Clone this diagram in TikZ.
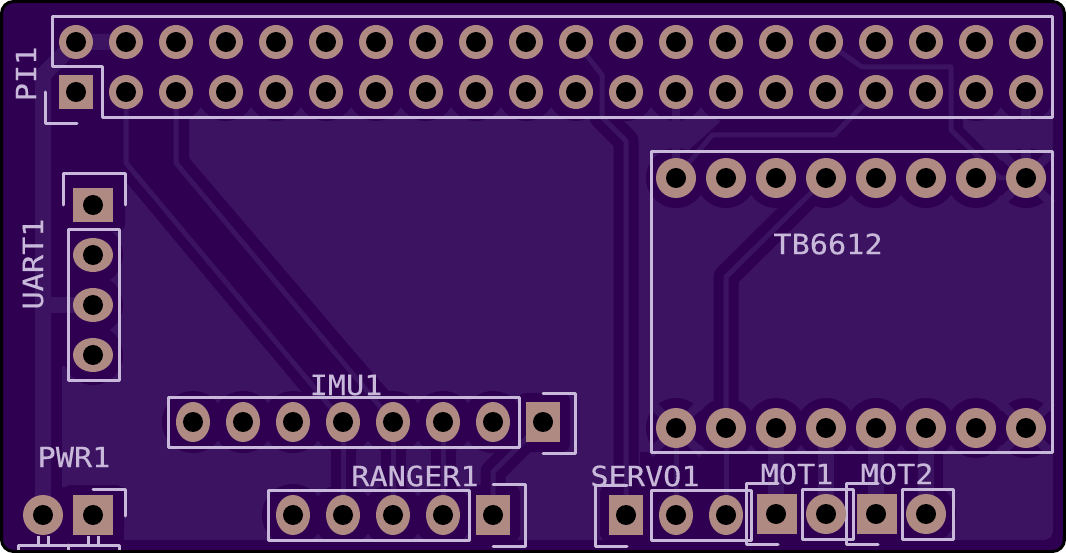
\documentclass[tikz,border=0pt]{standalone}
\usepackage{fontspec}
\newfontfamily\silkfont[FakeBold=0.25]{DejaVu Sans Mono}
\definecolor{bdark}{RGB}{47,0,82}
\definecolor{blight}{RGB}{60,19,97}
\definecolor{silk}{RGB}{200,185,218}
\definecolor{padc}{RGB}{174,138,130}
\tikzset{
  chan/.style={draw=bdark,line width=25pt,line join=round,line cap=round},
  thin trace/.style={draw=blight,line width=5pt,line join=round},
  wide trace/.style={draw=blight,line width=16pt,line join=round},
  spoke/.style={draw=blight,line width=9pt},
  silkline/.style={draw=silk,line width=3pt,line cap=round,line join=round},
  label/.style={text=silk,inner sep=0pt,font=\silkfont\fontsize{28}{28}\selectfont},
  darkfill/.style={fill=bdark},
  padfill/.style={fill=padc},
  hole/.style={fill=black}
}
\newcommand{\wtext}[1]{\scalebox{1.08}[1]{#1}}
\begin{document}
\begin{tikzpicture}[x=1pt,y=-1pt]
\useasboundingbox (0,0) rectangle (1066,553);
\fill[white] (0,0) rectangle (1066,553);
% board
\fill[bdark,rounded corners=12pt] (1.5,1.5) rectangle (1064.5,551.5);
% copper pour
\fill[blight]
  (100,100) -- (720,100) -- (720,122) -- (680,158) -- (680,178) -- (1000,178)
  -- (1000,165) -- (963,128) -- (963,100) -- (1053,100)
  -- (1053,532) -- (1051,537) -- (1045,540) -- (124,540) -- (124,487) -- (62,487) -- (62,366)
  -- (100,366) -- (100,100) -- cycle;
% dark areas of the pour
\fill[bdark] (95,95) -- (189,95) -- (189,158) -- (370,370) -- (425,432) -- (335,432)
  -- (300,390) -- (127,183) -- (95,183) -- cycle;
\fill[bdark] (640,452) rectangle (943,541);
% channels
\draw[chan,line cap=butt] (602,75) -- (602,117) -- (626,141) -- (626,490);
\draw[chan,line cap=butt] (726,428) -- (726,277) -- (826,178);
\draw[chan,line cap=butt] (543,422) -- (493,472) -- (493,515);
\foreach \x in {343,393,443}{\draw[chan,line cap=butt] (\x,422) -- (\x,515);}
\fill[bdark] (950,100) -- (963,100) -- (963,128) -- (1000,165) -- (1000,178) -- (960,178) -- cycle;
% clearances
\foreach \k in {1,...,19}{\fill[bdark] ({76+50*\k},92) circle (29pt);}
\foreach \k in {0,...,7}{
  \fill[bdark] ({676+50*\k},178) circle (30pt);
  \fill[bdark] ({676+50*\k},428) circle (30pt);
}
\foreach \y in {255,305,355}{\fill[bdark] (93,\y) circle (30pt);}
\fill[bdark] (43,515) circle (30pt);
\fill[bdark,rounded corners=8pt] (63,485) rectangle (124,541);
\fill[bdark,rounded corners=8pt] (68,180) rectangle (125,232);
\foreach \k in {0,...,6}{\fill[bdark] ({193+50*\k},422) circle (31pt);}
\fill[bdark,rounded corners=8pt] (518,393) rectangle (570,452);
\foreach \k in {0,...,3}{\fill[bdark] ({293+50*\k},515) circle (31pt);}
\fill[bdark,rounded corners=8pt] (468,485) rectangle (520,541);
\fill[bdark,rounded corners=8pt] (600,485) rectangle (652,541);
\foreach \x in {676,726,776,826,876,926}{\fill[bdark] (\x,514) circle (30pt);}
% traces
\draw[wide trace] (126,42) -- (76,42) -- (43,75) -- (43,515);
\draw[wide trace] (43,305) -- (93,305);
\draw[thin trace] (126,92) -- (126,163) -- (343,422);
\draw[thin trace] (176,92) -- (176,163) -- (393,422);
\draw[thin trace] (576,42) -- (602,75) -- (602,117) -- (626,141) -- (626,515);
\draw[thin trace] (826,42) -- (862,67) -- (951,67) -- (951,130) -- (1000,178) -- (1026,178);
\draw[thin trace] (876,92) -- (834,135) -- (712,135) -- (676,178);
\draw[thin trace] (726,428) -- (726,277) -- (826,178);
\draw[thin trace] (543,422) -- (493,472) -- (493,515);
\foreach \x in {343,393,443}{\draw[thin trace] (\x,422) -- (\x,515);}
\foreach \x in {676,726}{\draw[thin trace] (\x,428) -- (\x,514);}
\draw[blight,line width=8pt] (676,92) -- (676,178);
\draw[blight,line width=10pt] (1026,92) -- (1026,178);
\foreach \x in {776,826,876,926}{\draw[wide trace] (\x,428) -- (\x,514);}
% thermal spokes
\foreach \x/\y in {676/428,1026/428,1026/178}{
  \draw[spoke] (\x-26,\y-26) -- (\x+26,\y+26);
  \draw[spoke] (\x-26,\y+26) -- (\x+26,\y-26);
}
% silk
\draw[silkline] (52,17) -- (1052,17) -- (1052,118) -- (102,118) -- (102,67) -- (52,67) -- cycle;
\draw[silkline] (45,92) -- (45,124) -- (77,124);
\draw[silkline] (651,152) rectangle (1052,452);
\draw[silkline] (63,205) -- (63,174) -- (125,174) -- (125,205);
\draw[silkline] (68,230) rectangle (119,381);
\draw[silkline] (168,397) rectangle (519,447);
\draw[silkline] (543,393) -- (575,393) -- (575,453) -- (543,453);
\draw[silkline] (268,490) rectangle (469,540);
\draw[silkline] (493,484) -- (525,484) -- (525,546) -- (493,546);
\draw[silkline] (93,489) -- (125,489) -- (125,516);
\draw[silkline] (18,552) -- (18,545) -- (119,545) -- (119,552);
\draw[silkline] (68,545) -- (68,552);
\foreach \x in {38,48,88,98}{\draw[silkline,line cap=butt] (\x,536) -- (\x,545);}
\draw[silkline] (627,485) -- (595,485) -- (595,546) -- (627,546);
\draw[silkline] (651,490) rectangle (751,540);
\draw[silkline] (778,483) -- (746,483) -- (746,544) -- (778,544);
\draw[silkline] (802,489) rectangle (853,539);
\draw[silkline] (878,483) -- (846,483) -- (846,544) -- (878,544);
\draw[silkline] (902,489) rectangle (953,539);
% pads
\fill[padc] (59,75) rectangle (93,109);
\foreach \k in {0,...,19}{\fill[padc] ({76+50*\k},42) circle (17pt);}
\foreach \k in {1,...,19}{\fill[padc] ({76+50*\k},92) circle (17pt);}
\foreach \k in {0,...,7}{
  \fill[padc] ({676+50*\k},178) circle (20pt);
  \fill[padc] ({676+50*\k},428) circle (20pt);
}
\fill[padc] (73,188) rectangle (113,222);
\foreach \y in {255,305,355}{\fill[padc] (93,\y) ellipse [x radius=20pt,y radius=17pt];}
\foreach \k in {0,...,6}{\fill[padc] ({193+50*\k},422) ellipse [x radius=17pt,y radius=20pt];}
\fill[padc] (526,402) rectangle (560,442);
\foreach \k in {0,...,3}{\fill[padc] ({293+50*\k},515) ellipse [x radius=17pt,y radius=20pt];}
\fill[padc] (476,495) rectangle (510,535);
\fill[padc] (43,515) circle (20pt);
\fill[padc] (73,495) rectangle (113,535);
\fill[padc] (609,495) rectangle (643,535);
\foreach \x in {676,726}{\fill[padc] (\x,515) ellipse [x radius=17pt,y radius=20pt];}
\fill[padc] (757,494) rectangle (797,534);
\fill[padc] (826,514) circle (20pt);
\fill[padc] (857,494) rectangle (897,534);
\fill[padc] (926,514) circle (20pt);
% holes
\foreach \k in {0,...,19}{
  \fill[hole] ({76+50*\k},42) circle (10pt);
  \fill[hole] ({76+50*\k},92) circle (10pt);
}
\foreach \k in {0,...,7}{
  \fill[hole] ({676+50*\k},178) circle (10pt);
  \fill[hole] ({676+50*\k},428) circle (10pt);
}
\foreach \y in {205,255,305,355}{\fill[hole] (93,\y) circle (10pt);}
\foreach \k in {0,...,7}{\fill[hole] ({193+50*\k},422) circle (10pt);}
\foreach \k in {0,...,4}{\fill[hole] ({293+50*\k},515) circle (10pt);}
\foreach \x in {43,93,626,676,726}{\fill[hole] (\x,515) circle (10pt);}
\foreach \x in {776,826,876,926}{\fill[hole] (\x,514) circle (10pt);}
% board edge
\draw[black,line width=3pt,rounded corners=12pt] (1.5,1.5) rectangle (1064.5,551.5);
% labels
\node[label,rotate=90] (pi) at (26,74) {\wtext{PI1}};
\node[label,rotate=90] (uart) at (33,264) {\wtext{UART1}};
\node[label] (tb) at (828,244) {\wtext{TB6612}};
\node[label] (imu) at (346,385) {\wtext{IMU1}};
\node[label] (pwr) at (74,457) {\wtext{PWR1}};
\node[label] (ranger) at (415,476) {\wtext{RANGER1}};
\node[label] (servo) at (645,476) {\wtext{SERVO1}};
\node[label] (mot1) at (797,474) {\wtext{MOT1}};
\node[label] (mot2) at (897,474) {\wtext{MOT2}};
\end{tikzpicture}
\end{document}
